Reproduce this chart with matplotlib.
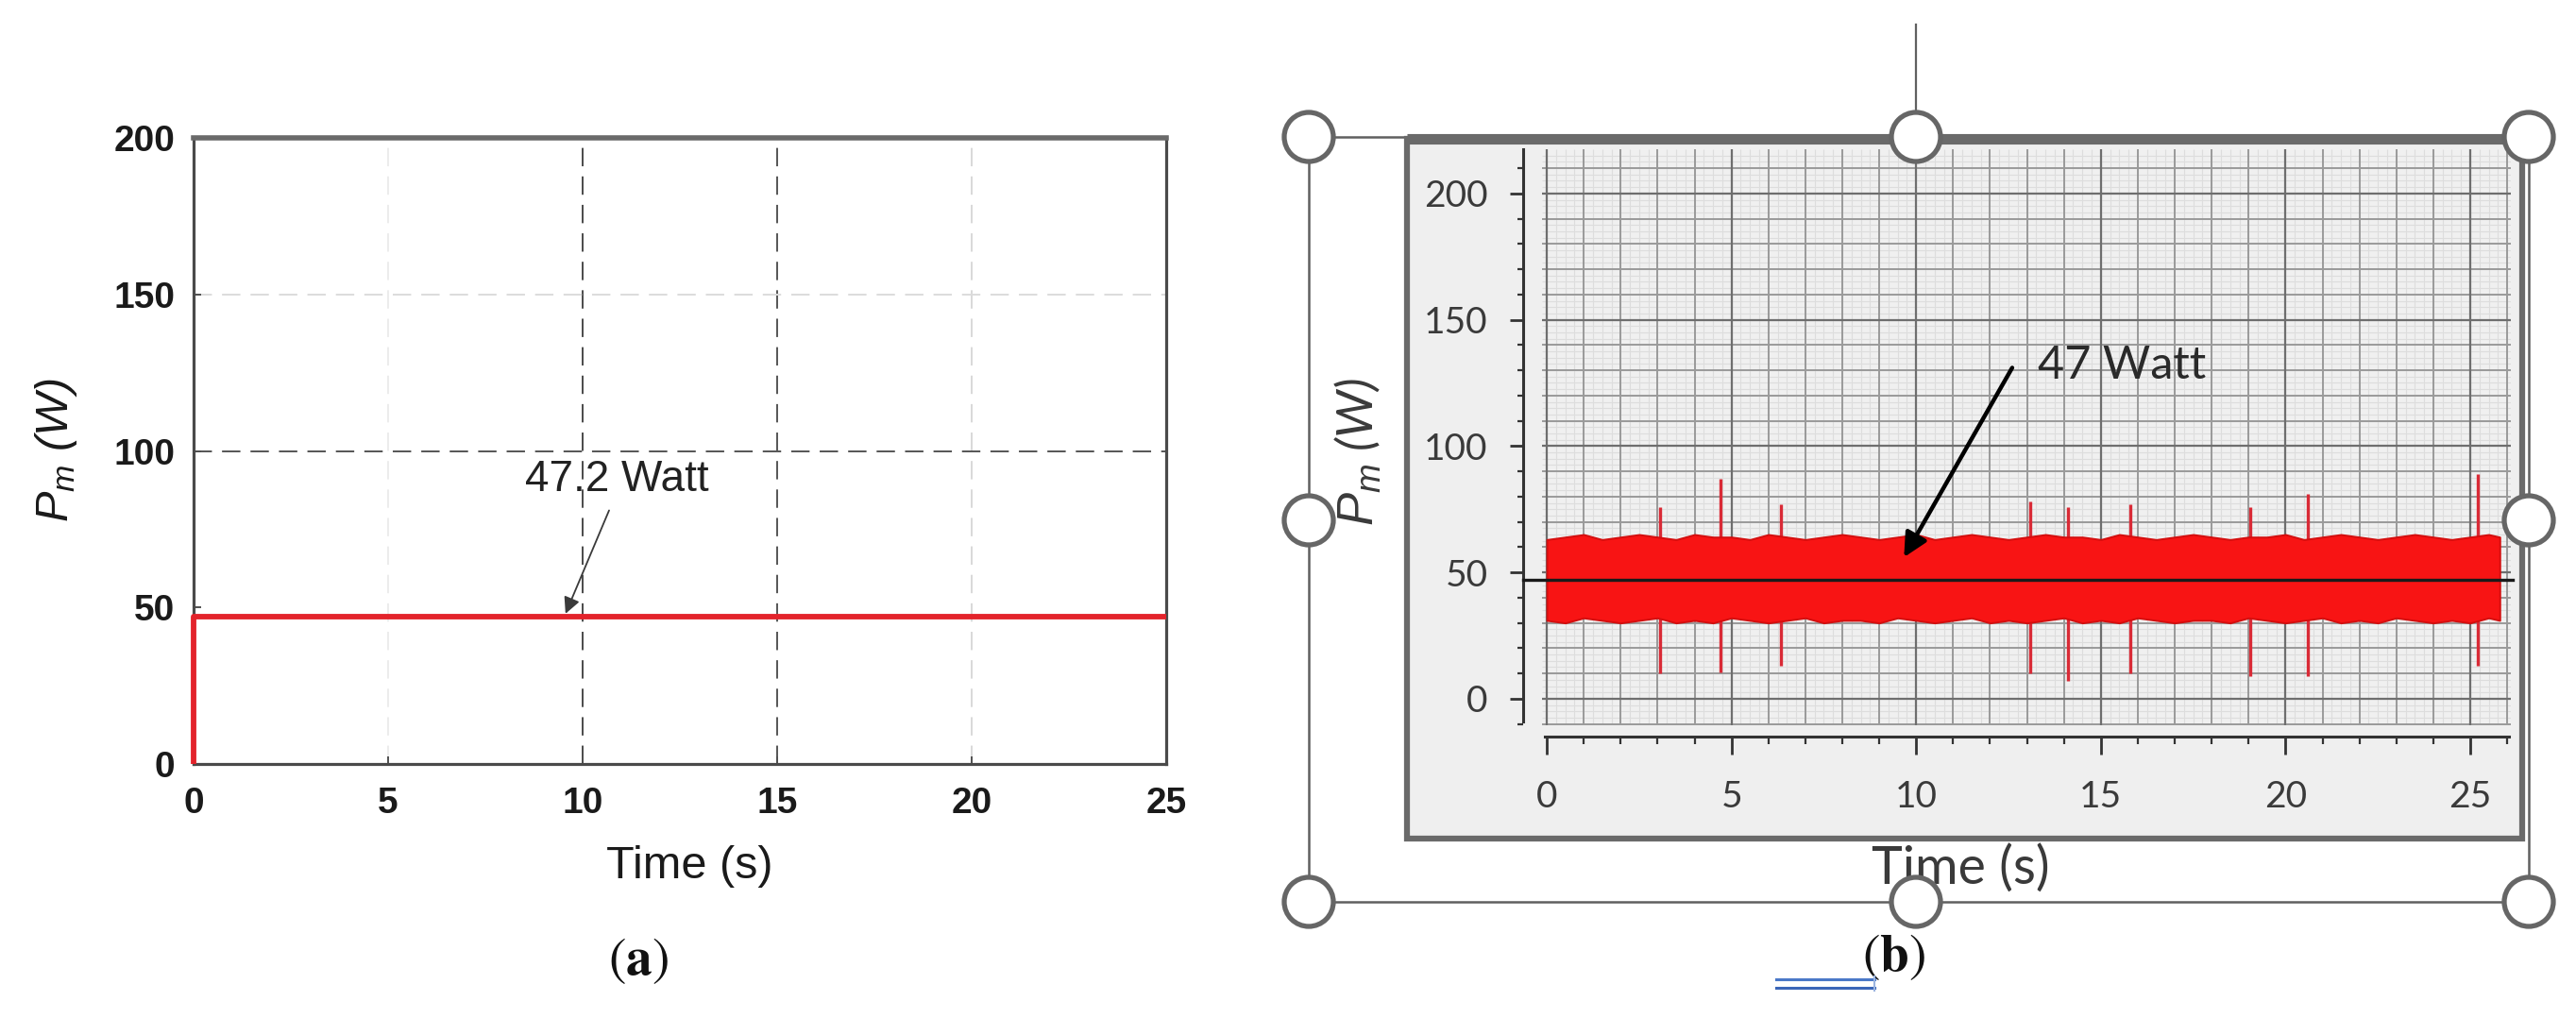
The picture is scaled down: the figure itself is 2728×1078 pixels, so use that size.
import matplotlib
matplotlib.use("Agg")
import matplotlib.pyplot as plt
import numpy as np
from matplotlib.patches import Rectangle, Circle
from matplotlib.ticker import MultipleLocator

plt.rcParams['mathtext.fontset'] = 'custom'
plt.rcParams['mathtext.it'] = 'Liberation Sans:italic'
plt.rcParams['mathtext.rm'] = 'Liberation Sans'
plt.rcParams['mathtext.bf'] = 'Liberation Sans:bold'

W, H = 2728, 1078

# ---------------- data: panel (a) ----------------
a_time = [0, 0, 25]
a_power = [0, 47.2, 47.2]
a_xticks = [0, 5, 10, 15, 20, 25]
a_yticks = [0, 50, 100, 150, 200]
a_note = "47.2 Watt"
a_note_tip = (9.56, 48)
a_note_tail = (10.68, 81)

# ---------------- data: panel (b) ----------------
b_env_time = [0, 0.5, 1, 1.5, 2, 2.5, 3, 3.5, 4, 4.5, 5, 5.5, 6, 6.5, 7, 7.5, 8, 8.5,
              9, 9.5, 10, 10.5, 11, 11.5, 12, 12.5, 13, 13.5, 14, 14.5, 15, 15.5, 16,
              16.5, 17, 17.5, 18, 18.5, 19, 19.5, 20, 20.5, 21, 21.5, 22, 22.5, 23,
              23.5, 24, 24.5, 25, 25.5, 25.8]
b_upper = [63, 64, 65, 63, 64, 65, 64, 63, 65, 64, 64, 63, 65, 64, 63, 64, 65, 64,
           63, 64, 65, 63, 64, 65, 64, 63, 64, 65, 64, 64, 63, 65, 64, 63, 64, 65,
           64, 63, 64, 64, 65, 63, 64, 65, 64, 63, 64, 65, 64, 63, 64, 65, 64]
b_lower = [31, 30, 32, 31, 30, 31, 32, 30, 31, 30, 32, 31, 30, 31, 32, 30, 31, 31,
           30, 32, 31, 30, 31, 32, 30, 31, 30, 31, 32, 30, 31, 30, 32, 31, 30, 31,
           31, 30, 32, 31, 30, 31, 32, 30, 31, 30, 32, 31, 30, 31, 30, 32, 31]
b_spike_time = [3.07, 4.7, 6.35, 13.1, 14.1, 15.8, 19.05, 20.6, 25.2]
b_spike_high = [76, 87, 77, 78, 76, 77, 76, 81, 89]
b_spike_low = [10, 10.5, 13, 10, 7, 10, 9, 9, 13]
b_mean = 47
b_xticks = [0, 5, 10, 15, 20, 25]
b_yticks = [0, 50, 100, 150, 200]
b_note = "47 Watt"
b_note_tip = (9.67, 56)
b_note_tail = (12.6, 131)
b_note_text = (13.3, 132)

fig = plt.figure(figsize=(W / 100, H / 100), dpi=100)


def rect(x0, y0, x1, y1):
    return [x0 / W, 1 - y1 / H, (x1 - x0) / W, (y1 - y0) / H]


# background overlay (pixel coordinates)
ax_bg = fig.add_axes([0, 0, 1, 1], zorder=0)
ax_bg.set_xlim(0, W)
ax_bg.set_ylim(H, 0)
ax_bg.axis('off')

ax_top = fig.add_axes([0, 0, 1, 1], zorder=6)
ax_top.set_xlim(0, W)
ax_top.set_ylim(H, 0)
ax_top.axis('off')

# ---------------- panel (a) ----------------
ax_a = fig.add_axes(rect(205, 146, 1235, 809), zorder=2)
ax_a.set_xlim(0, 25)
ax_a.set_ylim(0, 200)
dash = (0, (10, 5.5))
for xv, c in [(5, '#ececec'), (20, '#d8d8d8'), (10, '#4a4a4a'), (15, '#555555')]:
    ax_a.axvline(xv, color=c, lw=1.4, ls=dash, zorder=1)
for yv, c in [(150, '#dcdcdc'), (100, '#555555')]:
    ax_a.axhline(yv, color=c, lw=1.4, ls=dash, zorder=1)
ax_a.plot(a_time, a_power, color='#e3232b', lw=4.2, zorder=4, clip_on=False,
          solid_capstyle='butt')
ax_a.set_xticks(a_xticks)
ax_a.set_yticks(a_yticks)
ax_a.tick_params(direction='in', length=6, width=1.4, color='#505050',
                 labelsize=28, labelcolor='#1a1a1a')
ax_a.tick_params(axis='x', pad=17)
ax_a.tick_params(axis='y', pad=14)
for lab in ax_a.get_xticklabels() + ax_a.get_yticklabels():
    lab.set_fontfamily('Liberation Sans')
    lab.set_fontweight('bold')
for s in ['left', 'bottom', 'right']:
    ax_a.spines[s].set_color('#4a4a4a')
    ax_a.spines[s].set_linewidth(2.3)
ax_a.spines['top'].set_color('#6a6a6a')
ax_a.spines['top'].set_linewidth(4)
ax_a.annotate('', xy=a_note_tip, xytext=a_note_tail,
              arrowprops=dict(arrowstyle='-|>', color='#3a3a3a', lw=1.3,
                              mutation_scale=26, shrinkA=0, shrinkB=0), zorder=5)

ax_top.text(653, 508, a_note, fontsize=33, family='Liberation Sans',
            ha='center', va='center', color='#222222')
ax_top.text(730, 917, 'Time (s)', fontsize=35, family='Liberation Sans',
            ha='center', va='center', color='#1a1a1a')
ax_top.text(60, 477, r'$P_m$ (W)', fontsize=35, family='Liberation Sans',
            style='italic', rotation=90, ha='center', va='center', color='#1a1a1a')
ax_top.text(676, 1017, r'$(\mathbf{a})$', fontsize=40, math_fontfamily='stix',
            ha='center', va='center', color='#111111')

# ---------------- panel (b) frame / selection ----------------
ax_bg.add_patch(Rectangle((1386, 145), 2678 - 1386, 955 - 145, fill=False,
                          edgecolor='#606060', lw=1.8, zorder=1))
ax_bg.plot([2029, 2029], [26, 117], color='#606060', lw=1.6, zorder=1)
ax_bg.add_patch(Rectangle((1490, 147), 2671 - 1490, 888 - 147, facecolor='#efefef',
                          edgecolor='#6a6a6a', lw=4.5, zorder=2))
ax_bg.plot([1490, 2671], [147, 147], color='#6a6a6a', lw=8, zorder=3,
           solid_capstyle='butt')

handles = [(1386, 145), (2029, 145), (2678, 145), (1386, 551), (2678, 551),
           (1386, 955), (2029, 955), (2678, 955)]
for cx, cy in handles:
    ax_top.add_patch(Circle((cx, cy), 26, facecolor='white', edgecolor='#666666',
                            lw=3.8, zorder=5))

# ---------------- panel (b) axes ----------------
ax_b = fig.add_axes(rect(1633, 158, 2659, 768), zorder=3)
ax_b.set_xlim(-0.13, 26.1)
ax_b.set_ylim(-10.5, 217.5)
ax_b.set_facecolor('#f0f0f0')
xs_minor = np.arange(0, 26.01, 0.25)
ys_minor = np.arange(-10, 217, 2.5)
ax_b.vlines(xs_minor, 0, 1, transform=ax_b.get_xaxis_transform(),
            color='#dddddd', lw=0.8, zorder=0.5)
ax_b.hlines(ys_minor, 0, 1, transform=ax_b.get_yaxis_transform(),
            color='#dddddd', lw=0.8, zorder=0.5)
ax_b.vlines(np.arange(0, 26.01, 1), 0, 1, transform=ax_b.get_xaxis_transform(),
            color='#9a9a9a', lw=1.4, zorder=0.6)
ax_b.hlines(np.arange(-10, 211, 10), 0, 1, transform=ax_b.get_yaxis_transform(),
            color='#9a9a9a', lw=1.4, zorder=0.6)
ax_b.vlines(np.arange(0, 26.01, 5), 0, 1, transform=ax_b.get_xaxis_transform(),
            color='#6e6e6e', lw=1.6, zorder=0.7)
ax_b.hlines(np.arange(0, 201, 50), 0, 1, transform=ax_b.get_yaxis_transform(),
            color='#6e6e6e', lw=1.6, zorder=0.7)

ax_b.vlines(b_spike_time, b_spike_low, b_spike_high, color='#d92a36', lw=2.4, zorder=1.8)
ax_b.fill_between(b_env_time, b_lower, b_upper, facecolor='#f81414',
                  edgecolor='#d40e0e', lw=1.4, zorder=2)
ax_b.plot([-0.0195, 1.002], [b_mean, b_mean], transform=ax_b.get_yaxis_transform(),
          color='#1a1a1a', lw=2.4, zorder=3, clip_on=False)

for s in ['top', 'right']:
    ax_b.spines[s].set_visible(False)
ax_b.spines['left'].set_position(('outward', 14.4))
ax_b.spines['bottom'].set_position(('outward', 8.6))
ax_b.spines['left'].set_bounds(-9, 217.5)
ax_b.spines['bottom'].set_bounds(-0.05, 26.05)
for s in ['left', 'bottom']:
    ax_b.spines[s].set_color('#333333')
    ax_b.spines[s].set_linewidth(2.2)
ax_b.set_xticks(b_xticks)
ax_b.set_yticks(b_yticks)
ax_b.xaxis.set_minor_locator(MultipleLocator(1))
ax_b.yaxis.set_minor_locator(MultipleLocator(10))
ax_b.tick_params(which='major', direction='out', color='#333333', width=2,
                 labelsize=28, labelcolor='#3a3a3a')
ax_b.tick_params(which='minor', direction='out', color='#333333', width=1.6)
ax_b.tick_params(axis='x', which='major', length=14, pad=19)
ax_b.tick_params(axis='x', which='minor', length=6)
ax_b.tick_params(axis='y', which='major', length=10, pad=17)
ax_b.tick_params(axis='y', which='minor', length=4)
for lab in ax_b.get_xticklabels() + ax_b.get_yticklabels():
    lab.set_fontfamily('Lato')

ax_b.annotate('', xy=b_note_tip, xytext=b_note_tail,
              arrowprops=dict(arrowstyle='-|>', color='black', lw=3.2,
                              mutation_scale=38, shrinkA=0, shrinkB=0), zorder=5)
ax_b.text(b_note_text[0], b_note_text[1], b_note, fontsize=35, family='Lato',
          ha='left', va='center', color='#2a2a2a', zorder=5)

ax_top.text(2076, 920, 'Time (s)', fontsize=40, family='Lato',
            ha='center', va='center', color='#3a3a3a')
ax_top.text(1438, 478, r'$P_m$ (W)', fontsize=38, family='Lato',
            style='italic', rotation=90, ha='center', va='center', color='#3a3a3a')
ax_top.text(2006, 1013, r'$(\mathbf{b})$', fontsize=40, math_fontfamily='stix',
            ha='center', va='center', color='#111111')
ax_top.plot([1881, 1985], [1037, 1037], color='#4a78c8', lw=2.2, zorder=4)
ax_top.plot([1881, 1985], [1046, 1046], color='#3a66b8', lw=2.2, zorder=4)
ax_top.plot([1985, 1985], [1034, 1049], color='#9ab4e0', lw=1.5, zorder=4)

fig.savefig('out.png', dpi=100, facecolor='white')
